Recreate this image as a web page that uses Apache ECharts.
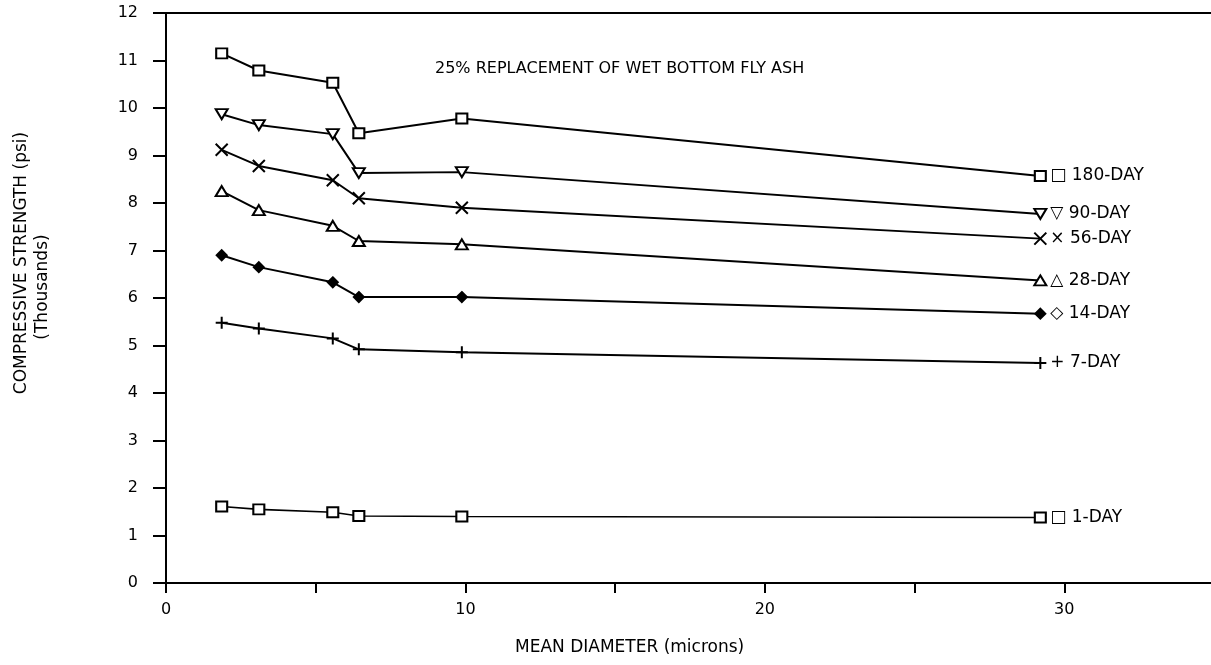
<!DOCTYPE html>
<html><head><meta charset="utf-8">
<script src="https://cdn.jsdelivr.net/npm/echarts@6/dist/echarts.min.js"></script>
<style>html,body{margin:0;padding:0;background:#fff}#c{width:1211px;height:665px}</style>
</head><body><div id="c"></div>
<script>
const diameters = [1.86, 3.1, 5.57, 6.44, 9.88, 29.2];
const day180 = [11.15, 10.79, 10.53, 9.47, 9.78, 8.57];
const day90  = [9.87, 9.64, 9.45, 8.63, 8.65, 7.77];
const day56  = [9.12, 8.78, 8.48, 8.10, 7.90, 7.25];
const day28  = [8.25, 7.85, 7.52, 7.20, 7.13, 6.37];
const day14  = [6.90, 6.65, 6.33, 6.02, 6.02, 5.67];
const day7   = [5.48, 5.36, 5.15, 4.92, 4.86, 4.63];
const day1   = [1.61, 1.55, 1.49, 1.41, 1.40, 1.38];
const seriesNames = ['180-DAY','90-DAY','56-DAY','28-DAY','14-DAY','7-DAY','1-DAY'];
const labelGlyphs = ['\u25A1','\u25BD','\u00D7','\u25B3','\u25C7','+','\u25A1'];
const yTicks = [0,1,2,3,4,5,6,7,8,9,10,11,12];
const xTickLabels = [0,10,20,30];
const chartTitle = '25% REPLACEMENT OF WET BOTTOM FLY ASH';
const xName = 'MEAN DIAMETER (microns)';
const yName1 = 'COMPRESSIVE STRENGTH (psi)';
const yName2 = '(Thousands)';

const FONT = 'DejaVu Sans';
const crossPath = 'path://M0,0L10,10M10,0L0,10';
const plusPath = 'path://M5,0L5,10M0,5L10,5';
const styles = [
  {symbol:'rect', size:[11,10], rot:0, fill:'#fff'},
  {symbol:'triangle', size:[12,10], rot:180, fill:'#fff'},
  {symbol:crossPath, size:12, rot:0, fill:'none'},
  {symbol:'triangle', size:[12,10], rot:0, fill:'#fff'},
  {symbol:'diamond', size:[10,10], rot:0, fill:'#000'},
  {symbol:plusPath, size:12, rot:0, fill:'none'},
  {symbol:'rect', size:[11,10], rot:0, fill:'#fff'}
];
const allData = [day180, day90, day56, day28, day14, day7, day1];

const series = allData.map((vals, i) => ({
  name: seriesNames[i],
  type: 'line',
  data: diameters.map((d, j) => [d, vals[j]]),
  symbol: styles[i].symbol,
  symbolSize: styles[i].size,
  symbolRotate: styles[i].rot,
  showAllSymbol: true,
  lineStyle: {color:'#000', width: i === 6 ? 1.6 : 2},
  itemStyle: {color: styles[i].fill, borderColor:'#000', borderWidth:2},
  emphasis: {disabled:true},
  animation: false,
  endLabel: {
    show: true,
    formatter: labelGlyphs[i] + ' ' + seriesNames[i],
    color: '#000',
    fontFamily: FONT,
    fontSize: 17,
    distance: 10
  },
  z: 3
}));

const chart = echarts.init(document.getElementById('c'));
chart.setOption({
  backgroundColor: '#fff',
  animation: false,
  grid: {left: 166, right: 0, top: 13, bottom: 82, containLabel: false},
  xAxis: [{
    type: 'value', min: 0, max: 34.9, interval: 5,
    axisLine: {show: true, lineStyle: {color:'#000', width: 2}},
    axisTick: {show: true, length: 10, lineStyle: {color:'#000', width: 2}},
    splitLine: {show: false},
    axisLabel: {
      margin: 19, color:'#000', fontFamily: FONT, fontSize: 16,
      showMaxLabel: false,
      formatter: v => xTickLabels.indexOf(v) >= 0 ? String(v) : ''
    }
  }, {
    type: 'value', min: 0, max: 34.9, position: 'top',
    axisLine: {show: true, onZero: false, lineStyle: {color:'#000', width: 2}},
    axisTick: {show: false}, axisLabel: {show: false}, splitLine: {show: false}
  }],
  yAxis: {
    type: 'value', min: 0, max: 12, interval: 1,
    axisLine: {show: true, lineStyle: {color:'#000', width: 2}},
    axisTick: {show: true, length: 13, lineStyle: {color:'#000', width: 2}},
    splitLine: {show: false},
    axisLabel: {
      margin: 28, color:'#000', fontFamily: FONT, fontSize: 16,
      formatter: v => yTicks.indexOf(v) >= 0 ? String(v) : ''
    }
  },
  graphic: [{
    type: 'text', x: 435, y: 69,
    style: {text: chartTitle, fill:'#000', font: '16px "DejaVu Sans"', verticalAlign: 'middle'}
  }, {
    type: 'text', x: 515, y: 648,
    style: {text: xName, fill:'#000', font: '17px "DejaVu Sans"', verticalAlign: 'middle'}
  }, {
    type: 'text', x: 22, y: 263, rotation: Math.PI / 2,
    style: {text: yName1, fill:'#000', font: '17px "DejaVu Sans"', align: 'center', verticalAlign: 'middle'}
  }, {
    type: 'text', x: 43, y: 287, rotation: Math.PI / 2,
    style: {text: yName2, fill:'#000', font: '17px "DejaVu Sans"', align: 'center', verticalAlign: 'middle'}
  }],
  series: series
});
</script></body></html>
